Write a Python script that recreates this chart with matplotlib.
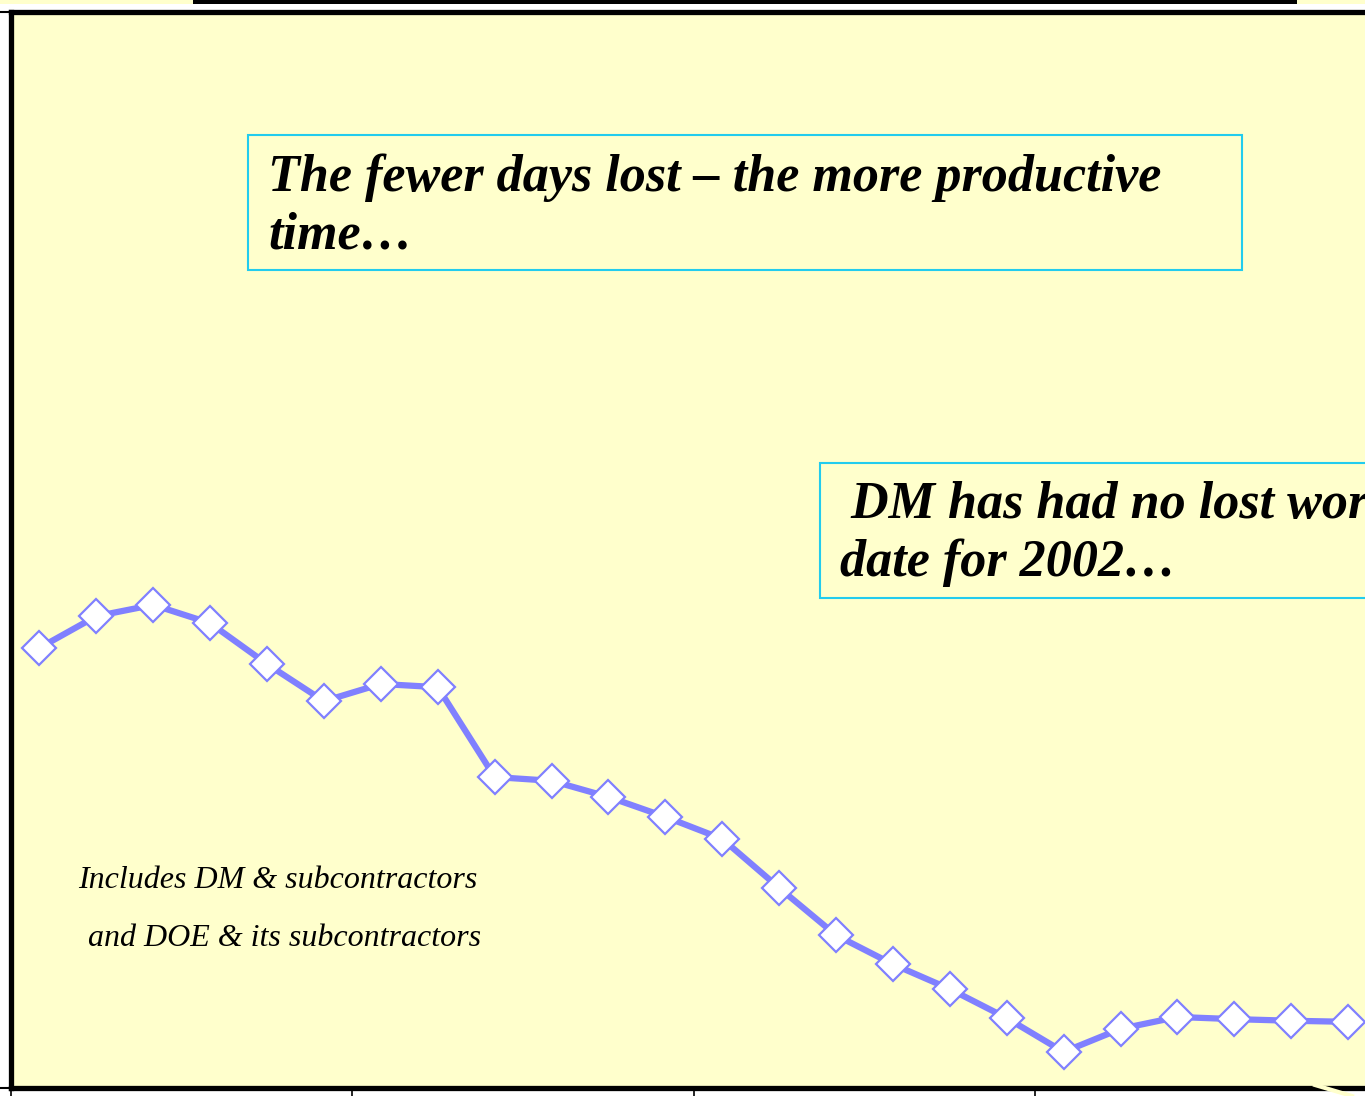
import matplotlib.pyplot as plt
from matplotlib.patches import Rectangle
from matplotlib.lines import Line2D

# lost workday rate, one point per period
periods = list(range(24))
rate = [0.818, 0.877, 0.898, 0.864, 0.788, 0.719, 0.751, 0.745,
        0.578, 0.571, 0.541, 0.504, 0.463, 0.372, 0.284, 0.230,
        0.184, 0.130, 0.067, 0.110, 0.132, 0.128, 0.125, 0.123]
year_edges = [-0.5, 5.5, 11.5, 17.5, 23.5]
y_ticks = [0, 2.0]

title_lines = ["The fewer days lost \u2013 the more productive", "time\u2026"]
dm_lines = [" DM has had no lost work days to", "date for 2002\u2026"]
note_lines = ["Includes DM & subcontractors", " and DOE & its subcontractors"]

W, H = 1365, 1096
fig = plt.figure(figsize=(W / 100, H / 100), dpi=100)
fig.patch.set_facecolor("white")


def fx(px):
    return px / W


def fy(py):
    return 1 - py / H


# axes box runs past the right edge of the picture, like the cropped slide
ax = fig.add_axes([fx(11), fy(1088), fx(56.9 * 24), fy(12) - fy(1088)])
ax.set_facecolor("#FFFFCC")
ax.plot(periods, rate, color="#8080FF", lw=4.5, marker="D", markersize=17,
        markerfacecolor="white", markeredgecolor="#8080FF",
        markeredgewidth=1.6, zorder=3)
ax.set_xlim(-0.5, 23.5)
ax.set_ylim(0, 2.0)
ax.set_xticks(year_edges)
ax.set_yticks(y_ticks)
ax.set_xticklabels([])
ax.set_yticklabels([])
ax.tick_params(axis="x", direction="out", length=6, width=1.2)
ax.tick_params(axis="y", direction="out", length=8, width=1.5)
for side in ["left", "top", "bottom"]:
    ax.spines[side].set_linewidth(3.8)
    ax.spines[side].set_color("black")
ax.spines["right"].set_visible(False)

# strip along the very top of the picture
fig.patches.append(Rectangle((0, fy(3.5)), 1, 1 - fy(3.5), transform=fig.transFigure,
                             facecolor="#FFFFCC", edgecolor="none", zorder=0))
fig.patches.append(Rectangle((fx(193), fy(3.5)), fx(1297 - 193), 1 - fy(3.5),
                             transform=fig.transFigure, facecolor="black",
                             edgecolor="none", zorder=1))
fig.lines.append(Line2D([fx(1315), fx(1352)], [fy(1085), fy(1096)],
                        transform=fig.transFigure, color="#FFFFCC", lw=3, zorder=5))

# boxed call-outs
box_kw = dict(transform=fig.transFigure, facecolor="#FFFFCC",
              edgecolor="#22CCEE", lw=1.5, zorder=4)
fig.patches.append(Rectangle((fx(248), fy(270)), fx(1242 - 248), fy(135) - fy(270), **box_kw))
fig.patches.append(Rectangle((fx(820), fy(598)), fx(700), fy(463) - fy(598), **box_kw))

big = dict(family="Liberation Serif", fontweight="bold", fontstyle="italic",
           fontsize=37.5, color="black", va="baseline", zorder=6)
fig.text(fx(268), fy(191), title_lines[0], **big)
fig.text(fx(268), fy(248), title_lines[1], **big)
fig.text(fx(838), fy(518), dm_lines[0], **big)
fig.text(fx(840), fy(576), dm_lines[1], **big)

small = dict(family="Liberation Serif", fontstyle="italic", fontsize=23,
             color="black", va="baseline", zorder=6)
fig.text(fx(78), fy(888), note_lines[0], **small)
fig.text(fx(80), fy(946), note_lines[1], **small)

fig.savefig("out.png", dpi=100)
